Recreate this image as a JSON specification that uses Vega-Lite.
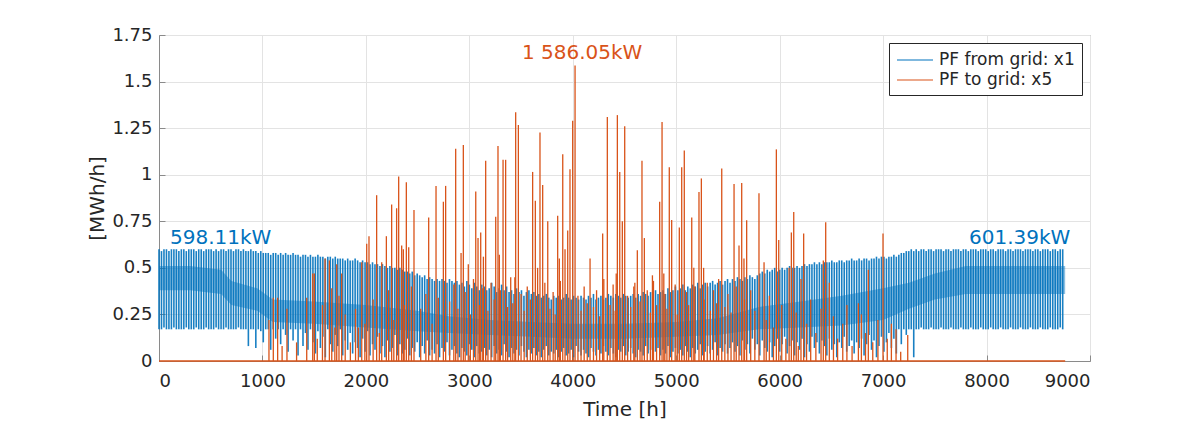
{
"$schema":"https://vega.github.io/schema/vega-lite/v6.json",
"width":931,"height":326,
"autosize":"none",
"padding":{"left":159,"top":35,"right":109,"bottom":63},
"background":"white",
"config":{
 "font":"DejaVu Sans",
 "view":{"stroke":"#8a8a8a","strokeWidth":1},
 "axis":{"domainColor":"#8a8a8a","gridColor":"#e3e3e3","gridOpacity":1,"tickColor":"#8a8a8a","labelColor":"#262626","titleColor":"#262626","labelFontSize":18,"titleFontSize":20,"titleFontWeight":"normal","tickSize":-6},
 "legend":{"orient":"top-right","offset":8,"labelFontSize":17,"labelColor":"#262626","symbolType":"M-1,0H3","symbolSize":324,"symbolStrokeWidth":1.2,"symbolOpacity":1,"symbolFillColor":"transparent","strokeColor":"#262626","fillColor":"white","padding":7,"rowPadding":2,"labelOffset":23}
},
"datasets":{
"band":[{"t":0,"v":0.38,"v2":0.51},{"t":300,"v":0.38,"v2":0.51},{"t":600,"v":0.36,"v2":0.49},{"t":700,"v":0.3,"v2":0.43},{"t":950,"v":0.27,"v2":0.39},{"t":1100,"v":0.21,"v2":0.33},{"t":1500,"v":0.2,"v2":0.32},{"t":2000,"v":0.18,"v2":0.3},{"t":2500,"v":0.16,"v2":0.27},{"t":2800,"v":0.15,"v2":0.24},{"t":3200,"v":0.14,"v2":0.22},{"t":3600,"v":0.13,"v2":0.21},{"t":4000,"v":0.12,"v2":0.2},{"t":4500,"v":0.12,"v2":0.2},{"t":5000,"v":0.13,"v2":0.21},{"t":5400,"v":0.14,"v2":0.23},{"t":5800,"v":0.17,"v2":0.29},{"t":6200,"v":0.18,"v2":0.32},{"t":6600,"v":0.19,"v2":0.35},{"t":7000,"v":0.22,"v2":0.39},{"t":7250,"v":0.28,"v2":0.42},{"t":7500,"v":0.33,"v2":0.47},{"t":7800,"v":0.36,"v2":0.51},{"t":8760,"v":0.36,"v2":0.51}],
"grid":[
{"t":0,"v":0.17,"v2":0.6},{"t":24,"v":0.17,"v2":0.59},{"t":48,"v":0.18,"v2":0.6},{"t":72,"v":0.17,"v2":0.6},{"t":96,"v":0.17,"v2":0.59},{"t":120,"v":0.17,"v2":0.6},{"t":144,"v":0.18,"v2":0.6},{"t":168,"v":0.17,"v2":0.6},{"t":192,"v":0.17,"v2":0.59},{"t":216,"v":0.17,"v2":0.6},
{"t":240,"v":0.17,"v2":0.6},{"t":264,"v":0.18,"v2":0.59},{"t":288,"v":0.17,"v2":0.6},{"t":312,"v":0.17,"v2":0.6},{"t":336,"v":0.17,"v2":0.6},{"t":360,"v":0.18,"v2":0.59},{"t":384,"v":0.17,"v2":0.6},{"t":408,"v":0.17,"v2":0.6},{"t":432,"v":0.17,"v2":0.59},{"t":456,"v":0.18,"v2":0.6},
{"t":480,"v":0.17,"v2":0.6},{"t":504,"v":0.17,"v2":0.6},{"t":528,"v":0.17,"v2":0.59},{"t":552,"v":0.18,"v2":0.6},{"t":576,"v":0.17,"v2":0.59},{"t":600,"v":0.17,"v2":0.6},{"t":624,"v":0.17,"v2":0.6},{"t":648,"v":0.18,"v2":0.59},{"t":672,"v":0.17,"v2":0.6},{"t":696,"v":0.17,"v2":0.6},
{"t":720,"v":0.17,"v2":0.59},{"t":744,"v":0.17,"v2":0.6},{"t":768,"v":0.18,"v2":0.6},{"t":792,"v":0.17,"v2":0.59},{"t":816,"v":0.17,"v2":0.6},{"t":840,"v":0.17,"v2":0.59},{"t":864,"v":0.08,"v2":0.59},{"t":888,"v":0.17,"v2":0.6},{"t":912,"v":0.17,"v2":0.59},{"t":936,"v":0.07,"v2":0.59},
{"t":960,"v":0.17,"v2":0.58},{"t":984,"v":0.16,"v2":0.59},{"t":1008,"v":0.1,"v2":0.58},{"t":1032,"v":0.17,"v2":0.58},{"t":1056,"v":0.17,"v2":0.58},{"t":1080,"v":0.06,"v2":0.57},{"t":1104,"v":0.17,"v2":0.58},{"t":1128,"v":0.12,"v2":0.58},{"t":1152,"v":0.17,"v2":0.57},{"t":1176,"v":0.09,"v2":0.58},
{"t":1200,"v":0.17,"v2":0.57},{"t":1224,"v":0.14,"v2":0.58},{"t":1248,"v":0.05,"v2":0.57},{"t":1272,"v":0.17,"v2":0.57},{"t":1296,"v":0.11,"v2":0.58},{"t":1320,"v":0.17,"v2":0.57},{"t":1344,"v":0.03,"v2":0.57},{"t":1368,"v":0.17,"v2":0.56},{"t":1392,"v":0.08,"v2":0.57},{"t":1416,"v":0.15,"v2":0.57},
{"t":1440,"v":0.06,"v2":0.56},{"t":1464,"v":0.17,"v2":0.57},{"t":1488,"v":0.1,"v2":0.56},{"t":1512,"v":0.04,"v2":0.56},{"t":1536,"v":0.16,"v2":0.57},{"t":1560,"v":0.07,"v2":0.56},{"t":1584,"v":0.13,"v2":0.56},{"t":1608,"v":0.02,"v2":0.55},{"t":1632,"v":0.17,"v2":0.56},{"t":1656,"v":0.09,"v2":0.56},
{"t":1680,"v":0.05,"v2":0.55},{"t":1704,"v":0.14,"v2":0.56},{"t":1728,"v":0.08,"v2":0.55},{"t":1752,"v":0.17,"v2":0.55},{"t":1776,"v":0.03,"v2":0.55},{"t":1800,"v":0.11,"v2":0.54},{"t":1824,"v":0.06,"v2":0.55},{"t":1848,"v":0.15,"v2":0.54},{"t":1872,"v":0.04,"v2":0.54},{"t":1896,"v":0.1,"v2":0.55},
{"t":1920,"v":0.07,"v2":0.54},{"t":1944,"v":0.02,"v2":0.53},{"t":1968,"v":0.12,"v2":0.54},{"t":1992,"v":0.05,"v2":0.53},{"t":2016,"v":0.16,"v2":0.53},{"t":2040,"v":0.03,"v2":0.52},{"t":2064,"v":0.09,"v2":0.53},{"t":2088,"v":0.06,"v2":0.52},{"t":2112,"v":0.13,"v2":0.52},{"t":2136,"v":0.04,"v2":0.51},
{"t":2160,"v":0.08,"v2":0.52},{"t":2184,"v":0.02,"v2":0.51},{"t":2208,"v":0.11,"v2":0.5},{"t":2232,"v":0.05,"v2":0.51},{"t":2256,"v":0.07,"v2":0.5},{"t":2280,"v":0.14,"v2":0.5},{"t":2304,"v":0.03,"v2":0.49},{"t":2328,"v":0.09,"v2":0.5},{"t":2352,"v":0.04,"v2":0.49},{"t":2376,"v":0.06,"v2":0.48},
{"t":2400,"v":0.12,"v2":0.48},{"t":2424,"v":0.03,"v2":0.47},{"t":2448,"v":0.07,"v2":0.48},{"t":2472,"v":0.05,"v2":0.46},{"t":2496,"v":0.1,"v2":0.47},{"t":2520,"v":0.02,"v2":0.46},{"t":2544,"v":0.08,"v2":0.45},{"t":2568,"v":0.04,"v2":0.46},{"t":2592,"v":0.11,"v2":0.44},{"t":2616,"v":0.03,"v2":0.45},
{"t":2640,"v":0.06,"v2":0.44},{"t":2664,"v":0.04,"v2":0.43},{"t":2688,"v":0.09,"v2":0.44},{"t":2712,"v":0.02,"v2":0.43},{"t":2736,"v":0.07,"v2":0.44},{"t":2760,"v":0.05,"v2":0.43},{"t":2784,"v":0.1,"v2":0.42},{"t":2808,"v":0.03,"v2":0.44},{"t":2832,"v":0.06,"v2":0.43},{"t":2856,"v":0.08,"v2":0.42},
{"t":2880,"v":0.04,"v2":0.43},{"t":2904,"v":0.02,"v2":0.41},{"t":2928,"v":0.07,"v2":0.42},{"t":2952,"v":0.05,"v2":0.4},{"t":2976,"v":0.03,"v2":0.43},{"t":3000,"v":0.09,"v2":0.41},{"t":3024,"v":0.06,"v2":0.39},{"t":3048,"v":0.02,"v2":0.42},{"t":3072,"v":0.08,"v2":0.4},{"t":3096,"v":0.04,"v2":0.38},
{"t":3120,"v":0.05,"v2":0.41},{"t":3144,"v":0.07,"v2":0.4},{"t":3168,"v":0.03,"v2":0.38},{"t":3192,"v":0.06,"v2":0.39},{"t":3216,"v":0.02,"v2":0.42},{"t":3240,"v":0.08,"v2":0.4},{"t":3264,"v":0.04,"v2":0.37},{"t":3288,"v":0.06,"v2":0.39},{"t":3312,"v":0.03,"v2":0.41},{"t":3336,"v":0.09,"v2":0.38},
{"t":3360,"v":0.05,"v2":0.4},{"t":3384,"v":0.02,"v2":0.37},{"t":3408,"v":0.07,"v2":0.38},{"t":3432,"v":0.04,"v2":0.36},{"t":3456,"v":0.06,"v2":0.39},{"t":3480,"v":0.03,"v2":0.37},{"t":3504,"v":0.08,"v2":0.38},{"t":3528,"v":0.05,"v2":0.35},{"t":3552,"v":0.02,"v2":0.37},{"t":3576,"v":0.06,"v2":0.38},
{"t":3600,"v":0.04,"v2":0.36},{"t":3624,"v":0.07,"v2":0.37},{"t":3648,"v":0.03,"v2":0.35},{"t":3672,"v":0.05,"v2":0.36},{"t":3696,"v":0.02,"v2":0.34},{"t":3720,"v":0.06,"v2":0.35},{"t":3744,"v":0.08,"v2":0.36},{"t":3768,"v":0.03,"v2":0.34},{"t":3792,"v":0.05,"v2":0.33},{"t":3816,"v":0.04,"v2":0.35},
{"t":3840,"v":0.06,"v2":0.34},{"t":3864,"v":0.02,"v2":0.35},{"t":3888,"v":0.05,"v2":0.33},{"t":3912,"v":0.07,"v2":0.34},{"t":3936,"v":0.03,"v2":0.36},{"t":3960,"v":0.04,"v2":0.34},{"t":3984,"v":0.06,"v2":0.33},{"t":4008,"v":0.02,"v2":0.35},{"t":4032,"v":0.08,"v2":0.34},{"t":4056,"v":0.05,"v2":0.33},
{"t":4080,"v":0.03,"v2":0.35},{"t":4104,"v":0.06,"v2":0.34},{"t":4128,"v":0.04,"v2":0.33},{"t":4152,"v":0.02,"v2":0.35},{"t":4176,"v":0.07,"v2":0.34},{"t":4200,"v":0.05,"v2":0.36},{"t":4224,"v":0.03,"v2":0.33},{"t":4248,"v":0.06,"v2":0.34},{"t":4272,"v":0.04,"v2":0.35},{"t":4296,"v":0.08,"v2":0.33},
{"t":4320,"v":0.05,"v2":0.34},{"t":4344,"v":0.03,"v2":0.36},{"t":4368,"v":0.07,"v2":0.35},{"t":4392,"v":0.04,"v2":0.34},{"t":4416,"v":0.02,"v2":0.36},{"t":4440,"v":0.06,"v2":0.35},{"t":4464,"v":0.05,"v2":0.34},{"t":4488,"v":0.08,"v2":0.36},{"t":4512,"v":0.03,"v2":0.35},{"t":4536,"v":0.05,"v2":0.34},
{"t":4560,"v":0.07,"v2":0.35},{"t":4584,"v":0.04,"v2":0.36},{"t":4608,"v":0.02,"v2":0.34},{"t":4632,"v":0.06,"v2":0.36},{"t":4656,"v":0.05,"v2":0.35},{"t":4680,"v":0.03,"v2":0.37},{"t":4704,"v":0.08,"v2":0.36},{"t":4728,"v":0.04,"v2":0.35},{"t":4752,"v":0.06,"v2":0.37},{"t":4776,"v":0.02,"v2":0.36},
{"t":4800,"v":0.05,"v2":0.38},{"t":4824,"v":0.07,"v2":0.36},{"t":4848,"v":0.03,"v2":0.37},{"t":4872,"v":0.06,"v2":0.38},{"t":4896,"v":0.04,"v2":0.36},{"t":4920,"v":0.08,"v2":0.39},{"t":4944,"v":0.02,"v2":0.37},{"t":4968,"v":0.05,"v2":0.38},{"t":4992,"v":0.07,"v2":0.4},{"t":5016,"v":0.04,"v2":0.38},
{"t":5040,"v":0.06,"v2":0.39},{"t":5064,"v":0.03,"v2":0.41},{"t":5088,"v":0.08,"v2":0.38},{"t":5112,"v":0.05,"v2":0.4},{"t":5136,"v":0.02,"v2":0.39},{"t":5160,"v":0.07,"v2":0.41},{"t":5184,"v":0.04,"v2":0.4},{"t":5208,"v":0.06,"v2":0.42},{"t":5232,"v":0.09,"v2":0.39},{"t":5256,"v":0.03,"v2":0.41},
{"t":5280,"v":0.05,"v2":0.42},{"t":5304,"v":0.08,"v2":0.4},{"t":5328,"v":0.04,"v2":0.42},{"t":5352,"v":0.06,"v2":0.43},{"t":5376,"v":0.1,"v2":0.41},{"t":5400,"v":0.03,"v2":0.42},{"t":5424,"v":0.07,"v2":0.43},{"t":5448,"v":0.05,"v2":0.41},{"t":5472,"v":0.09,"v2":0.43},{"t":5496,"v":0.04,"v2":0.44},
{"t":5520,"v":0.07,"v2":0.42},{"t":5544,"v":0.1,"v2":0.44},{"t":5568,"v":0.05,"v2":0.43},{"t":5592,"v":0.08,"v2":0.45},{"t":5616,"v":0.03,"v2":0.44},{"t":5640,"v":0.11,"v2":0.43},{"t":5664,"v":0.06,"v2":0.45},{"t":5688,"v":0.09,"v2":0.44},{"t":5712,"v":0.04,"v2":0.46},{"t":5736,"v":0.12,"v2":0.45},
{"t":5760,"v":0.06,"v2":0.44},{"t":5784,"v":0.09,"v2":0.46},{"t":5808,"v":0.03,"v2":0.47},{"t":5832,"v":0.11,"v2":0.48},{"t":5856,"v":0.07,"v2":0.47},{"t":5880,"v":0.05,"v2":0.49},{"t":5904,"v":0.1,"v2":0.48},{"t":5928,"v":0.02,"v2":0.49},{"t":5952,"v":0.08,"v2":0.5},{"t":5976,"v":0.12,"v2":0.48},
{"t":6000,"v":0.05,"v2":0.49},{"t":6024,"v":0.09,"v2":0.5},{"t":6048,"v":0.13,"v2":0.49},{"t":6072,"v":0.04,"v2":0.5},{"t":6096,"v":0.08,"v2":0.51},{"t":6120,"v":0.11,"v2":0.5},{"t":6144,"v":0.03,"v2":0.5},{"t":6168,"v":0.1,"v2":0.51},{"t":6192,"v":0.06,"v2":0.5},{"t":6216,"v":0.12,"v2":0.51},
{"t":6240,"v":0.02,"v2":0.52},{"t":6264,"v":0.09,"v2":0.51},{"t":6288,"v":0.05,"v2":0.52},{"t":6312,"v":0.13,"v2":0.52},{"t":6336,"v":0.07,"v2":0.53},{"t":6360,"v":0.1,"v2":0.52},{"t":6384,"v":0.04,"v2":0.53},{"t":6408,"v":0.11,"v2":0.52},{"t":6432,"v":0.08,"v2":0.53},{"t":6456,"v":0.03,"v2":0.53},
{"t":6480,"v":0.12,"v2":0.53},{"t":6504,"v":0.06,"v2":0.54},{"t":6528,"v":0.09,"v2":0.53},{"t":6552,"v":0.02,"v2":0.53},{"t":6576,"v":0.1,"v2":0.54},{"t":6600,"v":0.07,"v2":0.54},{"t":6624,"v":0.13,"v2":0.53},{"t":6648,"v":0.05,"v2":0.54},{"t":6672,"v":0.08,"v2":0.54},{"t":6696,"v":0.11,"v2":0.55},
{"t":6720,"v":0.04,"v2":0.54},{"t":6744,"v":0.1,"v2":0.54},{"t":6768,"v":0.07,"v2":0.55},{"t":6792,"v":0.12,"v2":0.54},{"t":6816,"v":0.03,"v2":0.55},{"t":6840,"v":0.09,"v2":0.55},{"t":6864,"v":0.14,"v2":0.54},{"t":6888,"v":0.06,"v2":0.55},{"t":6912,"v":0.11,"v2":0.55},{"t":6936,"v":0.02,"v2":0.56},
{"t":6960,"v":0.08,"v2":0.55},{"t":6984,"v":0.13,"v2":0.56},{"t":7008,"v":0.05,"v2":0.56},{"t":7032,"v":0.1,"v2":0.55},{"t":7056,"v":0.15,"v2":0.56},{"t":7080,"v":0.07,"v2":0.56},{"t":7104,"v":0.12,"v2":0.57},{"t":7128,"v":0.04,"v2":0.56},{"t":7152,"v":0.17,"v2":0.57},{"t":7176,"v":0.09,"v2":0.58},
{"t":7200,"v":0.17,"v2":0.58},{"t":7224,"v":0.14,"v2":0.59},{"t":7248,"v":0.17,"v2":0.59},{"t":7272,"v":0.17,"v2":0.6},{"t":7296,"v":0.02,"v2":0.59},{"t":7320,"v":0.17,"v2":0.6},{"t":7344,"v":0.17,"v2":0.59},{"t":7368,"v":0.18,"v2":0.6},{"t":7392,"v":0.17,"v2":0.6},{"t":7416,"v":0.17,"v2":0.59},
{"t":7440,"v":0.17,"v2":0.6},{"t":7464,"v":0.18,"v2":0.6},{"t":7488,"v":0.17,"v2":0.59},{"t":7512,"v":0.17,"v2":0.6},{"t":7536,"v":0.17,"v2":0.6},{"t":7560,"v":0.18,"v2":0.6},{"t":7584,"v":0.17,"v2":0.59},{"t":7608,"v":0.17,"v2":0.6},{"t":7632,"v":0.17,"v2":0.6},{"t":7656,"v":0.18,"v2":0.59},
{"t":7680,"v":0.17,"v2":0.6},{"t":7704,"v":0.17,"v2":0.6},{"t":7728,"v":0.17,"v2":0.6},{"t":7752,"v":0.18,"v2":0.59},{"t":7776,"v":0.17,"v2":0.6},{"t":7800,"v":0.17,"v2":0.6},{"t":7824,"v":0.17,"v2":0.59},{"t":7848,"v":0.18,"v2":0.6},{"t":7872,"v":0.17,"v2":0.6},{"t":7896,"v":0.17,"v2":0.6},
{"t":7920,"v":0.17,"v2":0.59},{"t":7944,"v":0.18,"v2":0.6},{"t":7968,"v":0.17,"v2":0.6},{"t":7992,"v":0.17,"v2":0.6},{"t":8016,"v":0.17,"v2":0.59},{"t":8040,"v":0.18,"v2":0.6},{"t":8064,"v":0.17,"v2":0.6},{"t":8088,"v":0.17,"v2":0.59},{"t":8112,"v":0.17,"v2":0.6},{"t":8136,"v":0.18,"v2":0.6},
{"t":8160,"v":0.17,"v2":0.6},{"t":8184,"v":0.17,"v2":0.59},{"t":8208,"v":0.17,"v2":0.6},{"t":8232,"v":0.18,"v2":0.6},{"t":8256,"v":0.17,"v2":0.59},{"t":8280,"v":0.17,"v2":0.6},{"t":8304,"v":0.17,"v2":0.6},{"t":8328,"v":0.18,"v2":0.6},{"t":8352,"v":0.17,"v2":0.59},{"t":8376,"v":0.17,"v2":0.6},
{"t":8400,"v":0.17,"v2":0.6},{"t":8424,"v":0.18,"v2":0.6},{"t":8448,"v":0.17,"v2":0.59},{"t":8472,"v":0.17,"v2":0.6},{"t":8496,"v":0.17,"v2":0.6},{"t":8520,"v":0.18,"v2":0.59},{"t":8544,"v":0.17,"v2":0.6},{"t":8568,"v":0.17,"v2":0.6},{"t":8592,"v":0.17,"v2":0.6},{"t":8616,"v":0.18,"v2":0.59},
{"t":8640,"v":0.17,"v2":0.6},{"t":8664,"v":0.17,"v2":0.6},{"t":8688,"v":0.17,"v2":0.59},{"t":8712,"v":0.18,"v2":0.6},{"t":8736,"v":0.17,"v2":0.6}],
"togrid":[
{"t":1063,"v":0.22},{"t":1105,"v":0.34},{"t":1147,"v":0.34},{"t":1190,"v":0.08},{"t":1237,"v":0.28},{"t":1330,"v":0.1},{"t":1428,"v":0.34},{"t":1486,"v":0.47},{"t":1502,"v":0.47},{"t":1530,"v":0.12},{"t":1580,"v":0.3},{"t":1605,"v":0.55},{"t":1647,"v":0.54},{"t":1670,"v":0.39},{"t":1700,"v":0.18},{"t":1718,"v":0.52},{"t":1740,"v":0.35},{"t":1766,"v":0.47},{"t":1800,"v":0.25},{"t":1850,"v":0.1},{"t":1900,"v":0.28},{"t":1927,"v":0.18},{"t":1960,"v":0.53},{"t":1990,"v":0.2},{"t":2008,"v":0.63},{"t":2030,"v":0.67},{"t":2070,"v":0.33},{"t":2104,"v":0.89},{"t":2130,"v":0.15},{"t":2153,"v":0.53},{"t":2198,"v":0.67},{"t":2220,"v":0.38},{"t":2249,"v":0.84},{"t":2270,"v":0.22},{"t":2297,"v":0.82},{"t":2317,"v":0.99},{"t":2346,"v":0.62},{"t":2362,"v":0.6},{"t":2370,"v":0.3},{"t":2391,"v":0.96},{"t":2414,"v":0.61},{"t":2440,"v":0.4},{"t":2465,"v":0.81},{"t":2530,"v":0.28},{"t":2580,"v":0.36},{"t":2607,"v":0.77},{"t":2640,"v":0.2},{"t":2678,"v":0.94},{"t":2700,"v":0.34},{"t":2749,"v":0.855},{"t":2771,"v":0.94},{"t":2810,"v":0.32},{"t":2850,"v":0.41},{"t":2868,"v":1.14},{"t":2890,"v":0.28},{"t":2920,"v":0.58},{"t":2942,"v":1.16},{"t":2960,"v":0.37},{"t":2990,"v":0.52},{"t":3010,"v":0.25},{"t":3040,"v":0.44},{"t":3062,"v":0.91},{"t":3084,"v":0.66},{"t":3100,"v":0.3},{"t":3110,"v":0.69},{"t":3130,"v":0.39},{"t":3136,"v":0.56},{"t":3158,"v":1.075},{"t":3180,"v":0.27},{"t":3210,"v":0.42},{"t":3240,"v":0.33},{"t":3255,"v":0.775},{"t":3277,"v":1.154},{"t":3290,"v":0.57},{"t":3300,"v":0.38},{"t":3326,"v":1.08},{"t":3351,"v":1.08},{"t":3370,"v":0.29},{"t":3400,"v":0.45},{"t":3420,"v":0.31},{"t":3440,"v":0.45},{"t":3448,"v":1.335},{"t":3474,"v":1.267},{"t":3500,"v":0.36},{"t":3530,"v":0.27},{"t":3560,"v":0.4},{"t":3590,"v":0.33},{"t":3612,"v":1.015},{"t":3638,"v":0.86},{"t":3660,"v":0.5},{"t":3683,"v":1.227},{"t":3709,"v":0.945},{"t":3730,"v":0.42},{"t":3758,"v":0.75},{"t":3780,"v":0.28},{"t":3810,"v":0.37},{"t":3830,"v":0.25},{"t":3854,"v":0.78},{"t":3870,"v":0.55},{"t":3880,"v":0.43},{"t":3903,"v":1.11},{"t":3925,"v":0.6},{"t":3951,"v":0.7},{"t":3973,"v":1.03},{"t":3999,"v":1.29},{"t":4022,"v":1.586},{"t":4050,"v":0.35},{"t":4080,"v":0.27},{"t":4110,"v":0.4},{"t":4140,"v":0.31},{"t":4167,"v":0.55},{"t":4200,"v":0.29},{"t":4230,"v":0.38},{"t":4260,"v":0.24},{"t":4289,"v":0.685},{"t":4300,"v":0.44},{"t":4334,"v":1.31},{"t":4360,"v":0.3},{"t":4390,"v":0.41},{"t":4410,"v":0.27},{"t":4420,"v":0.47},{"t":4431,"v":1.32},{"t":4454,"v":1.015},{"t":4479,"v":0.75},{"t":4502,"v":1.26},{"t":4530,"v":0.35},{"t":4560,"v":0.29},{"t":4590,"v":0.4},{"t":4600,"v":0.42},{"t":4624,"v":0.595},{"t":4650,"v":0.32},{"t":4669,"v":1.075},{"t":4692,"v":0.66},{"t":4720,"v":0.38},{"t":4750,"v":0.26},{"t":4770,"v":0.46},{"t":4780,"v":0.43},{"t":4810,"v":0.3},{"t":4840,"v":0.855},{"t":4863,"v":1.283},{"t":4880,"v":0.47},{"t":4890,"v":0.36},{"t":4910,"v":0.28},{"t":4933,"v":1.04},{"t":4956,"v":0.757},{"t":4990,"v":0.41},{"t":5010,"v":0.25},{"t":5030,"v":0.716},{"t":5053,"v":1.04},{"t":5078,"v":1.13},{"t":5100,"v":0.37},{"t":5120,"v":0.3},{"t":5150,"v":0.77},{"t":5170,"v":0.5},{"t":5180,"v":0.4},{"t":5220,"v":0.907},{"t":5243,"v":0.98},{"t":5265,"v":0.5},{"t":5270,"v":0.33},{"t":5300,"v":0.42},{"t":5330,"v":0.27},{"t":5360,"v":0.38},{"t":5390,"v":0.31},{"t":5410,"v":0.44},{"t":5440,"v":1.034},{"t":5470,"v":0.29},{"t":5500,"v":0.36},{"t":5530,"v":0.26},{"t":5559,"v":0.95},{"t":5580,"v":0.4},{"t":5607,"v":0.62},{"t":5633,"v":0.955},{"t":5655,"v":0.55},{"t":5660,"v":0.33},{"t":5681,"v":0.755},{"t":5720,"v":0.38},{"t":5760,"v":0.27},{"t":5800,"v":0.9},{"t":5849,"v":0.53},{"t":5870,"v":0.22},{"t":5900,"v":0.35},{"t":5940,"v":0.18},{"t":5968,"v":1.136},{"t":5991,"v":0.65},{"t":6020,"v":0.3},{"t":6060,"v":0.12},{"t":6091,"v":0.5},{"t":6113,"v":0.69},{"t":6136,"v":0.8},{"t":6160,"v":0.26},{"t":6180,"v":0.08},{"t":6206,"v":0.44},{"t":6232,"v":0.685},{"t":6260,"v":0.2},{"t":6300,"v":0.33},{"t":6350,"v":0.15},{"t":6400,"v":0.28},{"t":6422,"v":0.54},{"t":6445,"v":0.745},{"t":6480,"v":0.42},{"t":6520,"v":0.24},{"t":6560,"v":0.12},{"t":6610,"v":0.2},{"t":6650,"v":0.3},{"t":6700,"v":0.08},{"t":6761,"v":0.31},{"t":6790,"v":0.25},{"t":6830,"v":0.15},{"t":6857,"v":0.49},{"t":6900,"v":0.1},{"t":6950,"v":0.22},{"t":6999,"v":0.685},{"t":7040,"v":0.12},{"t":7080,"v":0.2},{"t":7125,"v":0.17},{"t":7170,"v":0.05},{"t":7238,"v":0.14}]
},
"encoding":{
 "x":{"field":"t","type":"quantitative","scale":{"domain":[0,9000],"nice":false},
  "axis":{"title":"Time [h]","values":[0,1000,2000,3000,4000,5000,6000,7000,8000,9000],"format":"d","labelPadding":17,"titleX":465.5,"titleY":48,"titleBaseline":"middle"}},
 "y":{"field":"v","type":"quantitative","scale":{"domain":[0,1.75],"nice":false},
  "axis":{"title":"[MWh/h]","values":[0,0.25,0.5,0.75,1,1.25,1.5,1.75],"labelExpr":"'' + datum.value","labelPadding":13,"titleX":-62,"titleY":163,"titleAlign":"center","titleBaseline":"middle","titleAngle":-90}}
},
"layer":[
 {"data":{"name":"band"},"mark":{"type":"area","color":"#0072BD","opacity":0.45},"encoding":{"y2":{"field":"v2"}}},
 {"data":{"name":"grid"},"mark":{"type":"rule","strokeWidth":1.6,"opacity":0.9},
  "encoding":{"y2":{"field":"v2"},"color":{"datum":"PF from grid: x1","type":"nominal","scale":{"domain":["PF from grid: x1","PF to grid: x5"],"range":["#0072BD","#D95319"]},"legend":{"title":null}}}},
 {"data":{"values":[{"t":0,"v":0},{"t":8760,"v":0}]},"mark":{"type":"line","color":"#D95319","strokeWidth":1.5},"encoding":{}},
 {"data":{"name":"togrid"},"mark":{"type":"rule","strokeWidth":1.3},
  "encoding":{"y2":{"datum":0},"color":{"datum":"PF to grid: x5","type":"nominal"}}},
 {"data":{"values":[{"t":106,"v":0.66,"label":"598.11kW"},{"t":7830,"v":0.66,"label":"601.39kW"}]},
  "mark":{"type":"text","align":"left","baseline":"middle","fontSize":20,"color":"#0072BD"},"encoding":{"text":{"field":"label"}}},
 {"data":{"values":[{"t":4090,"v":1.656,"label":"1 586.05kW"}]},
  "mark":{"type":"text","align":"center","baseline":"middle","fontSize":20,"color":"#D95319"},"encoding":{"text":{"field":"label"}}}
]
}
